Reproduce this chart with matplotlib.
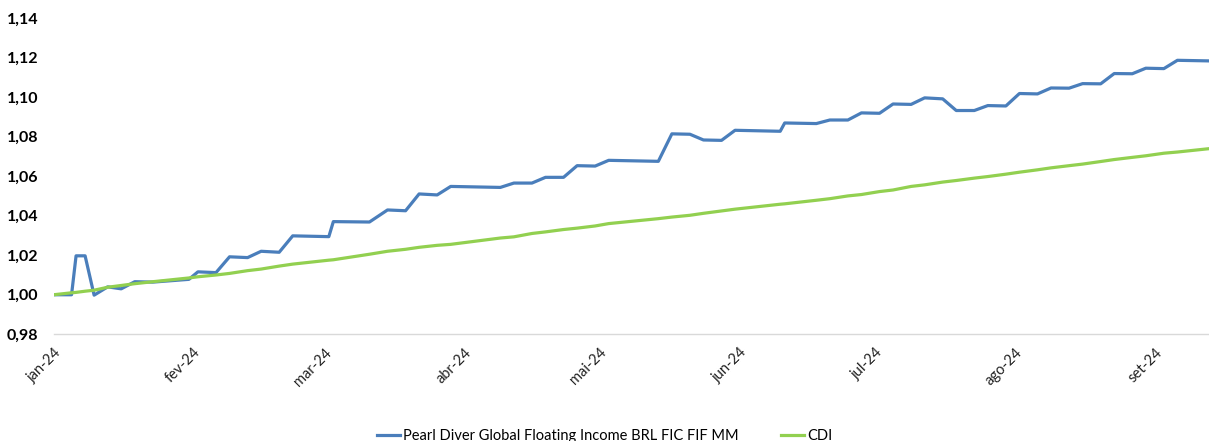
import pandas as pd
import matplotlib
matplotlib.use("Agg")
import matplotlib.pyplot as plt
import matplotlib.dates as mdates
from matplotlib.ticker import FuncFormatter

plt.rcParams['font.family'] = ['Lato', 'DejaVu Sans']

# pontos (cota normalizada)
dates = ["2024-01-01", "2024-01-05", "2024-01-06", "2024-01-08", "2024-01-10",
         "2024-01-13", "2024-01-16", "2024-01-19", "2024-01-23", "2024-01-31",
         "2024-02-02", "2024-02-06", "2024-02-09", "2024-02-13", "2024-02-16",
         "2024-02-20", "2024-02-23", "2024-03-02", "2024-03-03", "2024-03-11",
         "2024-03-15", "2024-03-19", "2024-03-22", "2024-03-26", "2024-03-29",
         "2024-04-09", "2024-04-12", "2024-04-16", "2024-04-19", "2024-04-23",
         "2024-04-26", "2024-04-30", "2024-05-03", "2024-05-14", "2024-05-17",
         "2024-05-21", "2024-05-24", "2024-05-28", "2024-05-31", "2024-06-10",
         "2024-06-11", "2024-06-18", "2024-06-21", "2024-06-25", "2024-06-28",
         "2024-07-02", "2024-07-05", "2024-07-09", "2024-07-12", "2024-07-16",
         "2024-07-19", "2024-07-23", "2024-07-26", "2024-07-30", "2024-08-02",
         "2024-08-06", "2024-08-09", "2024-08-13", "2024-08-16", "2024-08-20",
         "2024-08-23", "2024-08-27", "2024-08-30", "2024-09-03", "2024-09-06",
         "2024-09-13"]

fund = [1.0000, 1.0000, 1.0197, 1.0197, 0.9998,
        1.0040, 1.0030, 1.0066, 1.0064, 1.0078,
        1.0116, 1.0112, 1.0192, 1.0188, 1.0220,
        1.0215, 1.0298, 1.0294, 1.0370, 1.0368,
        1.0429, 1.0425, 1.0510, 1.0505, 1.0548,
        1.0543, 1.0565, 1.0565, 1.0594, 1.0594,
        1.0653, 1.0651, 1.0680, 1.0675, 1.0814,
        1.0812, 1.0783, 1.0781, 1.0832, 1.0827,
        1.0869, 1.0866, 1.0884, 1.0884, 1.0920,
        1.0918, 1.0965, 1.0963, 1.0996, 1.0991,
        1.0932, 1.0932, 1.0957, 1.0955, 1.1018,
        1.1016, 1.1046, 1.1045, 1.1068, 1.1067,
        1.1119, 1.1118, 1.1146, 1.1144, 1.1186,
        1.1183]

cdi = [1.0000, 1.0010, 1.0012, 1.0018, 1.0023,
       1.0038, 1.0047, 1.0056, 1.0066, 1.0085,
       1.0091, 1.0100, 1.0108, 1.0122, 1.0130,
       1.0145, 1.0155, 1.0175, 1.0177, 1.0205,
       1.0220, 1.0230, 1.0240, 1.0250, 1.0255,
       1.0287, 1.0293, 1.0310, 1.0318, 1.0330,
       1.0337, 1.0348, 1.0360, 1.0385, 1.0393,
       1.0402, 1.0412, 1.0424, 1.0433, 1.0458,
       1.0460, 1.0478, 1.0486, 1.0500, 1.0507,
       1.0522, 1.0530, 1.0548, 1.0556, 1.0570,
       1.0578, 1.0590, 1.0598, 1.0610, 1.0620,
       1.0632, 1.0642, 1.0653, 1.0661, 1.0674,
       1.0684, 1.0695, 1.0703, 1.0716, 1.0722,
       1.0739]

tick_dates = ["2024-01-01", "2024-02-01", "2024-03-01", "2024-04-01", "2024-05-01",
              "2024-06-01", "2024-07-01", "2024-08-01", "2024-09-01"]
tick_labels = ["jan-24", "fev-24", "mar-24", "abr-24", "mai-24",
               "jun-24", "jul-24", "ago-24", "set-24"]

fund_name = "Pearl Diver Global Floating Income BRL FIC FIF MM"

x = pd.to_datetime(dates)

fig = plt.figure(figsize=(12.09, 4.41), dpi=100)
ax = fig.add_axes([53.5 / 1209, 1 - 334.3 / 441, 1 - 53.5 / 1209, (334.3 - 18) / 441])

ax.plot(x, fund, color="#4A7EBB", lw=2.3, label=fund_name, solid_joinstyle="round")
ax.plot(x, cdi, color="#92D050", lw=2.3, label="CDI", solid_joinstyle="round")

ax.set_ylim(0.98, 1.14)
ax.set_yticks([0.98, 1.00, 1.02, 1.04, 1.06, 1.08, 1.10, 1.12, 1.14])
ax.yaxis.set_major_formatter(FuncFormatter(lambda v, p: f"{v:.2f}".replace(".", ",")))
ax.set_xlim(pd.Timestamp("2024-01-01"), pd.Timestamp("2024-09-13"))
ax.set_xticks(pd.to_datetime(tick_dates))
ax.set_xticklabels(tick_labels, rotation=45, ha="right", rotation_mode="anchor")

for s in ["top", "right", "left"]:
    ax.spines[s].set_visible(False)
ax.spines["bottom"].set_color("#D9D9D9")
ax.spines["bottom"].set_linewidth(1.0)

ax.tick_params(axis="y", length=0, pad=11, labelsize=11.5)
ax.tick_params(axis="x", length=0, pad=8, labelsize=10.5, labelcolor="#222222")
for lbl in ax.get_yticklabels():
    lbl.set_fontweight("bold")

fig.legend(loc="center", bbox_to_anchor=(0.5, 0.012), ncol=2, frameon=False,
           fontsize=10.5, handlelength=1.6, handletextpad=0.2, columnspacing=2.9)

fig.savefig("out.png", dpi=100)
